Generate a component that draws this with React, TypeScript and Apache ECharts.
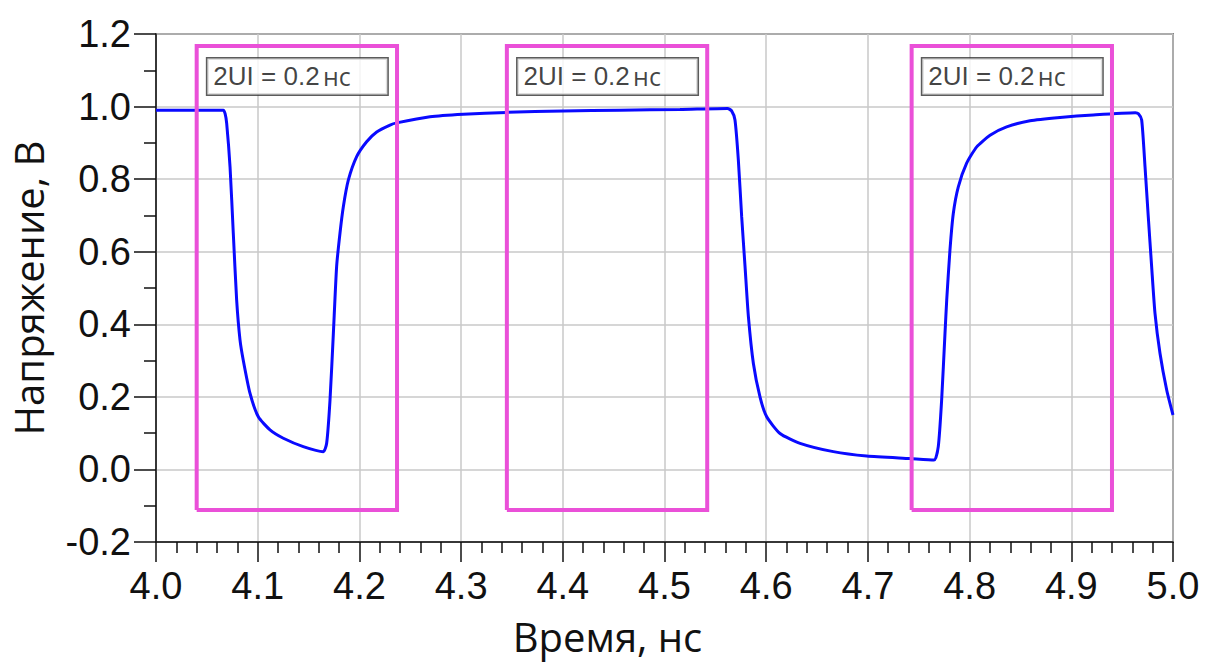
import React, { useEffect, useRef } from "react";
import * as echarts from "echarts";

// Blue waveform: time (ns) and voltage (V)
const timeNs = [
  4.0, 4.03, 4.0662, 4.068, 4.0695, 4.0728, 4.076, 4.0793, 4.0826, 4.0858, 4.0924, 4.1006, 4.1121,
  4.1252, 4.1448, 4.1645, 4.1678, 4.1711, 4.1744, 4.1776, 4.1809, 4.1842, 4.1891, 4.1973, 4.2071,
  4.217, 4.2301, 4.2366, 4.2694, 4.3022, 4.3448, 4.4005, 4.4562, 4.5152, 4.562, 4.566, 4.5693,
  4.5726, 4.5759, 4.5792, 4.5825, 4.5874, 4.5939, 4.6005, 4.6136, 4.6333, 4.666, 4.6988, 4.7414,
  4.765, 4.7692, 4.7725, 4.7758, 4.7775, 4.7807, 4.784, 4.7889, 4.7971, 4.807, 4.8201, 4.8364,
  4.8594, 4.8889, 4.9216, 4.963, 4.966, 4.9692, 4.9725, 4.9757, 4.979, 4.9823, 4.9872, 4.9938, 5.0,
];
const voltageV = [
  0.99, 0.99, 0.99, 0.98, 0.954, 0.834, 0.651, 0.467, 0.357, 0.301, 0.21, 0.145, 0.109,
  0.086, 0.063, 0.049, 0.072, 0.191, 0.375, 0.559, 0.651, 0.724, 0.797, 0.862, 0.903,
  0.93, 0.949, 0.955, 0.972, 0.979, 0.984, 0.988, 0.99, 0.992, 0.995, 0.988, 0.963,
  0.853, 0.696, 0.559, 0.421, 0.292, 0.2, 0.145, 0.099, 0.072, 0.049, 0.037, 0.03,
  0.026, 0.063, 0.191, 0.375, 0.467, 0.605, 0.706, 0.779, 0.844, 0.889, 0.921, 0.944,
  0.961, 0.97, 0.977, 0.983, 0.98, 0.963, 0.834, 0.696, 0.559, 0.43, 0.32, 0.219, 0.15,
];

// 2UI windows (pink rectangles)
const windowStarts = [4.04, 4.345, 4.743];
const windowWidth = 0.197;
const windowTop = 1.167;
const windowBottom = -0.112;
const windowLabelMain = "2UI = 0.2";
const windowLabelUnit = "нс";
const windowLabelY = 1.083;

// Axes
const xMin = 4.0;
const xMax = 5.0;
const xInterval = 0.1;
const yMin = -0.2;
const yMax = 1.2;
const yInterval = 0.2;
const xAxisTitle = "Время, нс";
const yAxisTitle = "Напряжение, В";

const ARIAL = "'Liberation Sans', Arial, sans-serif";
const TITLE_FONT = "'Open Sans', sans-serif";

export default function App() {
  const ref = useRef<HTMLDivElement>(null);

  useEffect(() => {
    if (!ref.current) return;
    const chart = echarts.init(ref.current, undefined, { renderer: "svg" });

    const curve = timeNs.map((t, i) => [t, voltageV[i]]);
    const pink = "#EA50D8";

    const windowSeries = windowStarts.map((x0) => {
      const x1 = x0 + windowWidth;
      return {
        type: "line",
        data: [
          [x0, windowBottom],
          [x0, windowTop],
          [x1, windowTop],
          [x1, windowBottom],
          [x0, windowBottom],
        ],
        symbol: "none",
        silent: true,
        lineStyle: { color: pink, width: 4, join: "miter" },
        z: 3,
      };
    });

    const labelSeries = {
      type: "scatter",
      symbolSize: 0,
      silent: true,
      z: 5,
      data: windowStarts.map((x0) => [x0 + 0.0105, windowLabelY]),
      label: {
        show: true,
        position: "right",
        distance: 0,
        formatter: () => `{m|${windowLabelMain}} {u|${windowLabelUnit}}`,
        backgroundColor: "#ffffff",
        borderColor: "#333333",
        borderWidth: 1.5,
        padding: [5, 6, 5, 6],
        width: 168,
        height: 26,
        rich: {
          m: {
            fontFamily: ARIAL,
            fontSize: 26,
            color: "#111111",
            lineHeight: 26,
          },
          u: {
            fontFamily: TITLE_FONT,
            fontSize: 25,
            color: "#111111",
            lineHeight: 26,
          },
        },
      },
    };

    chart.setOption({
      animation: false,
      grid: {
        left: 155,
        right: 33,
        top: 34,
        bottom: 120,
        show: true,
        borderColor: "#222222",
        borderWidth: 1.5,
        backgroundColor: "#ffffff",
      },
      xAxis: {
        type: "value",
        min: xMin,
        max: xMax,
        interval: xInterval,
        name: xAxisTitle,
        nameLocation: "middle",
        nameGap: 74,
        nameTextStyle: {
          fontFamily: TITLE_FONT,
          fontSize: 40,
          color: "#111111",
          padding: [0, 114, 0, 0],
        },
        axisLine: { show: true, onZero: false, lineStyle: { color: "#111111", width: 1.5 } },
        axisTick: { show: true, inside: false, length: 20, lineStyle: { color: "#111111", width: 1.5 } },
        minorTick: { show: true, splitNumber: 5, length: 11, lineStyle: { color: "#111111", width: 1.5 } },
        axisLabel: {
          margin: 25,
          fontFamily: ARIAL,
          fontSize: 38,
          color: "#111111",
          formatter: (v: number) => v.toFixed(1),
        },
        splitLine: { show: true, lineStyle: { color: "#c8c8c8", width: 1.5 } },
      },
      yAxis: {
        type: "value",
        min: yMin,
        max: yMax,
        interval: yInterval,
        name: yAxisTitle,
        nameLocation: "middle",
        nameGap: 108,
        nameRotate: 90,
        nameTextStyle: { fontFamily: TITLE_FONT, fontSize: 40, color: "#111111" },
        axisLine: { show: true, onZero: false, lineStyle: { color: "#111111", width: 1.5 } },
        axisTick: { show: true, inside: false, length: 22, lineStyle: { color: "#111111", width: 1.5 } },
        minorTick: { show: true, splitNumber: 2, length: 12, lineStyle: { color: "#111111", width: 1.5 } },
        axisLabel: {
          margin: 25,
          fontFamily: ARIAL,
          fontSize: 38,
          color: "#111111",
          formatter: (v: number) => v.toFixed(1),
        },
        splitLine: { show: true, lineStyle: { color: "#c8c8c8", width: 1.5 } },
      },
      series: [
        {
          type: "line",
          data: curve,
          symbol: "none",
          silent: true,
          smooth: 0.2,
          lineStyle: { color: "#0a0aff", width: 3 },
          z: 2,
        },
        ...windowSeries,
        labelSeries,
      ],
    });

    return () => chart.dispose();
  }, []);

  return (
    <div
      ref={ref}
      style={{ position: "fixed", left: 0, top: 0, width: 1206, height: 662, background: "#ffffff" }}
    />
  );
}
